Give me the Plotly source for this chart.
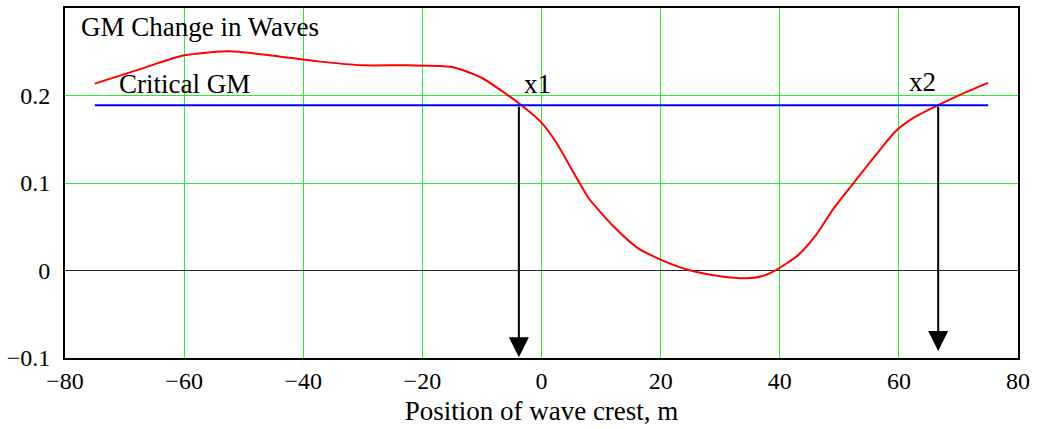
import plotly.graph_objects as go

# Data
pos = [-75, -67.5, -60, -52.5, -45, -37.5, -30, -22.5, -15, -10, -3.7, 0, 2.5, 6, 8, 12, 16,
       20, 25, 30, 34.5, 37, 39.5, 43, 46, 49, 52.5, 56, 59.5, 62.5, 66.6, 71, 75]
gm = [0.2136, 0.2299, 0.2459, 0.2505, 0.2455, 0.2390, 0.2345, 0.2345, 0.2326, 0.2200, 0.1906,
      0.1690, 0.1460, 0.1045, 0.0820, 0.0511, 0.0265, 0.0125, 0.0000, -0.0065, -0.0088,
      -0.0065, 0.0011, 0.0170, 0.0398, 0.0705, 0.1008, 0.1310, 0.1595, 0.1747, 0.1890,
      0.2030, 0.2144]
crit_x = [-75, 75]
crit_gm = [0.189, 0.189]
x1, x2 = -3.8, 66.6
x1_tip, x2_tip = -0.099, -0.092
xticks = [-80, -60, -40, -20, 0, 20, 40, 60, 80]
yticks = [-0.1, 0, 0.1, 0.2]

FONT = "Liberation Serif"

fig = go.Figure()
fig.add_trace(go.Scatter(x=pos, y=gm, mode="lines",
                         line=dict(color="rgb(255,0,0)", width=2, shape="spline", smoothing=0.6),
                         showlegend=False, hoverinfo="skip"))
fig.add_trace(go.Scatter(x=crit_x, y=crit_gm, mode="lines", line=dict(color="rgb(0,0,255)", width=2),
                         showlegend=False, hoverinfo="skip"))

for xv, tip in [(x1, x1_tip), (x2, x2_tip)]:
    fig.add_annotation(x=xv, y=tip, ax=xv, ay=crit_gm[0], xref="x", yref="y", axref="x", ayref="y",
                       text="", showarrow=True, arrowhead=2, arrowsize=2, arrowwidth=2,
                       arrowcolor="black", standoff=0, startstandoff=0)

txt = dict(family=FONT, size=27, color="black")
fig.add_annotation(x=-77.6, y=0.2785, text="GM Change in Waves", showarrow=False,
                   xanchor="left", yanchor="middle", font=txt)
fig.add_annotation(x=-71.3, y=0.2130, text="Critical GM", showarrow=False,
                   xanchor="left", yanchor="middle", font=txt)
fig.add_annotation(x=-3.2, y=0.2128, text="x1", showarrow=False,
                   xanchor="left", yanchor="middle", font=txt)
fig.add_annotation(x=61.3, y=0.2157, text="x2", showarrow=False,
                   xanchor="left", yanchor="middle", font=txt)

fig.update_layout(
    width=1038, height=429,
    margin=dict(l=65, r=20, t=6, b=71),
    paper_bgcolor="white", plot_bgcolor="white",
    font=dict(family=FONT, size=24, color="black"),
    xaxis=dict(range=[-80, 80], tickvals=xticks, showgrid=True, gridcolor="rgb(40,240,40)", gridwidth=1.4,
               zeroline=False, showline=True, linecolor="black", linewidth=2, mirror=True,
               ticks="", ticklabelstandoff=0,
               title=dict(text="Position of wave crest, m", font=dict(family=FONT, size=27), standoff=8)),
    yaxis=dict(range=[-0.1, 0.3], tickvals=yticks, ticktext=["\u22120.1", "0", "0.1", "0.2"],
               showgrid=True, gridcolor="rgb(40,240,40)", gridwidth=1.4,
               zeroline=True, zerolinecolor="rgb(40,40,40)", zerolinewidth=1,
               showline=True, linecolor="black", linewidth=2, mirror=True,
               ticks="", ticklabelstandoff=8),
)

fig.write_html("out.html", config={"displayModeBar": False},
               post_script="document.body.style.margin='0';document.body.style.overflow='hidden';")
